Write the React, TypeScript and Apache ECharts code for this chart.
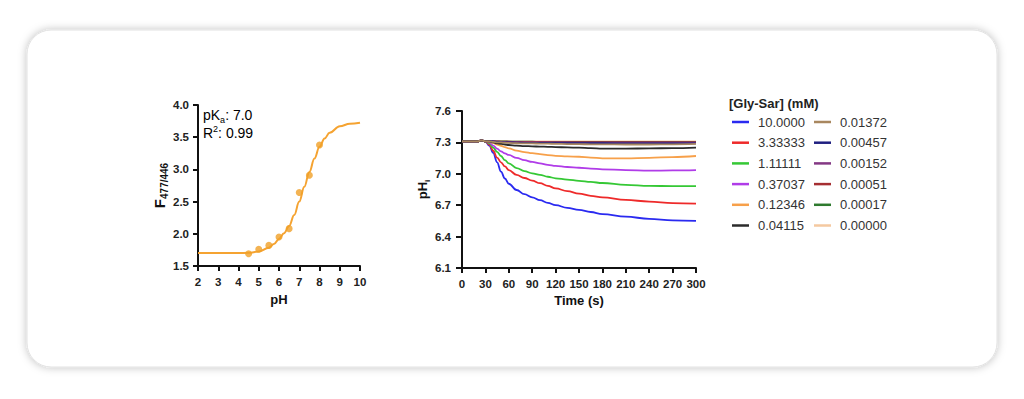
import React, { useEffect, useRef } from "react";
import * as echarts from "echarts";

// ---------- Left panel: pH calibration ----------
const phPoints: number[] = [4.5, 5, 5.5, 6, 6.5, 7, 7.5, 8];
const ratioPoints: number[] = [1.69, 1.76, 1.82, 1.95, 2.08, 2.64, 2.91, 3.38];

const fitPh: number[] = [2, 3, 4, 4.5, 5, 5.5, 5.75, 6, 6.25, 6.5, 6.75, 7, 7.25, 7.5, 7.75, 8, 8.25, 8.5, 9, 9.5, 10];
const fitRatio: number[] = [1.7, 1.7, 1.7, 1.705, 1.725, 1.785, 1.84, 1.92, 2.01, 2.12, 2.29, 2.5, 2.73, 2.96, 3.17, 3.35, 3.48, 3.57, 3.67, 3.71, 3.725];

const leftXTicks = { min: 2, max: 10, interval: 1 };
const leftYTicks = { min: 1.5, max: 4, interval: 0.5 };

// ---------- Right panel: pHi over time ----------
const times: number[] = [0, 10, 20, 25, 30, 35, 40, 45, 50, 55, 60, 70, 80, 90, 100, 110, 120, 135, 150, 165, 180, 210, 240, 270, 300];

const concNames: string[] = [
  "10.0000", "3.33333", "1.11111", "0.37037", "0.12346", "0.04115",
  "0.01372", "0.00457", "0.00152", "0.00051", "0.00017", "0.00000",
];

const s10: number[] = [7.31, 7.31, 7.31, 7.32, 7.31, 7.27, 7.2, 7.11, 7.02, 6.955, 6.905, 6.845, 6.805, 6.775, 6.748, 6.722, 6.7, 6.675, 6.655, 6.635, 6.615, 6.59, 6.57, 6.555, 6.55];
const s333: number[] = [7.31, 7.31, 7.31, 7.32, 7.31, 7.28, 7.22, 7.155, 7.11, 7.07, 7.035, 6.99, 6.96, 6.935, 6.91, 6.885, 6.86, 6.835, 6.81, 6.79, 6.775, 6.75, 6.735, 6.72, 6.715];
const s111: number[] = [7.31, 7.31, 7.31, 7.32, 7.31, 7.29, 7.25, 7.21, 7.17, 7.13, 7.1, 7.055, 7.025, 7.005, 6.99, 6.972, 6.957, 6.945, 6.933, 6.922, 6.912, 6.895, 6.885, 6.882, 6.882];
const s037: number[] = [7.31, 7.31, 7.31, 7.32, 7.31, 7.3, 7.27, 7.24, 7.215, 7.195, 7.18, 7.152, 7.13, 7.113, 7.1, 7.085, 7.075, 7.065, 7.058, 7.05, 7.043, 7.035, 7.03, 7.032, 7.035];
const s012: number[] = [7.31, 7.31, 7.31, 7.32, 7.31, 7.305, 7.295, 7.28, 7.268, 7.255, 7.243, 7.222, 7.208, 7.197, 7.188, 7.179, 7.172, 7.166, 7.163, 7.155, 7.148, 7.147, 7.152, 7.16, 7.17];
const s004: number[] = [7.31, 7.31, 7.31, 7.32, 7.31, 7.31, 7.3, 7.29, 7.285, 7.28, 7.275, 7.27, 7.265, 7.262, 7.26, 7.258, 7.255, 7.252, 7.25, 7.245, 7.24, 7.24, 7.243, 7.245, 7.25];
const s0137: number[] = [7.31, 7.31, 7.31, 7.32, 7.31, 7.31, 7.305, 7.3, 7.3, 7.297, 7.295, 7.292, 7.29, 7.29, 7.289, 7.288, 7.286, 7.284, 7.283, 7.282, 7.281, 7.28, 7.28, 7.282, 7.285];
const s0046: number[] = [7.31, 7.31, 7.31, 7.32, 7.31, 7.31, 7.31, 7.305, 7.3, 7.3, 7.3, 7.298, 7.296, 7.295, 7.295, 7.295, 7.294, 7.293, 7.293, 7.292, 7.292, 7.291, 7.29, 7.29, 7.29];
const s0015: number[] = [7.31, 7.31, 7.31, 7.32, 7.31, 7.31, 7.31, 7.308, 7.305, 7.304, 7.303, 7.302, 7.3, 7.3, 7.3, 7.3, 7.299, 7.299, 7.298, 7.298, 7.298, 7.298, 7.297, 7.297, 7.297];
const s0005: number[] = [7.31, 7.31, 7.31, 7.32, 7.31, 7.31, 7.31, 7.31, 7.308, 7.307, 7.306, 7.305, 7.305, 7.304, 7.304, 7.304, 7.303, 7.303, 7.303, 7.303, 7.302, 7.302, 7.302, 7.302, 7.302];
const s0002: number[] = [7.31, 7.31, 7.31, 7.32, 7.31, 7.31, 7.31, 7.31, 7.309, 7.309, 7.308, 7.307, 7.306, 7.306, 7.305, 7.305, 7.305, 7.305, 7.304, 7.304, 7.304, 7.304, 7.304, 7.304, 7.304];
const s0000: number[] = [7.31, 7.31, 7.31, 7.32, 7.31, 7.31, 7.31, 7.31, 7.31, 7.31, 7.31, 7.31, 7.31, 7.31, 7.31, 7.31, 7.31, 7.31, 7.31, 7.31, 7.31, 7.31, 7.31, 7.31, 7.31];

const seriesValues: number[][] = [s10, s333, s111, s037, s012, s004, s0137, s0046, s0015, s0005, s0002, s0000];
const seriesColors: string[] = [
  "#2a2af0", "#ee2a2a", "#35c835", "#b03ce8", "#f7a04a", "#2b2b2b",
  "#a8875f", "#1f1f80", "#843884", "#a52e32", "#2e7a2e", "#f4c9a0",
];

const rightXTicks = { min: 0, max: 300, interval: 30 };
const rightYRange = { min: 6.1, max: 7.6 };
const rightYTickValues: number[] = [6.1, 6.4, 6.7, 7.0, 7.3, 7.6];

const FONT = "'Liberation Sans', Arial, sans-serif";

export default function App() {
  const ref = useRef<HTMLDivElement>(null);

  useEffect(() => {
    if (!ref.current) return;
    const chart = echarts.init(ref.current, undefined, { renderer: "svg" });

    const axisLine = { show: true, lineStyle: { color: "#111", width: 2 } };
    const axisTick = { show: true, length: 5, lineStyle: { color: "#111", width: 2 } };
    const axisLabel = { color: "#222", fontWeight: "bold" as const, fontSize: 11.5, fontFamily: FONT };
    const nameStyle = { color: "#111", fontWeight: "bold" as const, fontSize: 13, fontFamily: FONT };

    const rightSeries = concNames.map((name, i) => ({
      name,
      type: "line" as const,
      xAxisIndex: 1,
      yAxisIndex: 1,
      data: times.map((t, j) => [t, seriesValues[i][j]]),
      symbol: "none",
      smooth: 0.4,
      smoothMonotone: "x" as const,
      lineStyle: { color: seriesColors[i], width: 1.8 },
      itemStyle: { color: seriesColors[i] },
      z: 3 + (i < 6 ? i : 11 - i),
    }));

    const legendCommon = {
      orient: "vertical" as const,
      icon: "rect",
      padding: 0,
      itemWidth: 17,
      itemHeight: 2.5,
      itemGap: 6.7,
      selectedMode: false,
      textStyle: { fontSize: 13, color: "#333", fontFamily: FONT, lineHeight: 14, padding: [0, 0, 0, 4] },
    };

    chart.setOption({
      animation: false,
      backgroundColor: "#ffffff",
      graphic: [
        {
          type: "rect",
          z: -10,
          silent: true,
          shape: { x: 27, y: 30, width: 970, height: 337, r: 24 },
          style: { fill: "#ffffff", stroke: "#e2e2e2", lineWidth: 1, shadowBlur: 9, shadowColor: "rgba(0,0,0,0.25)" },
        },
        {
          type: "text",
          x: 203,
          y: 115,
          style: {
            text: "{n|pK}{s|a}{n|: 7.0}",
            verticalAlign: "middle",
            rich: {
              n: { fontSize: 14, color: "#4a4a4a", fontFamily: FONT, lineHeight: 18 },
              s: { fontSize: 9, color: "#4a4a4a", fontFamily: FONT, verticalAlign: "bottom" },
            },
          },
        },
        {
          type: "text",
          x: 203,
          y: 133,
          style: {
            text: "{n|R}{s|2}{n|: 0.99}",
            verticalAlign: "middle",
            rich: {
              n: { fontSize: 14, color: "#4a4a4a", fontFamily: FONT, lineHeight: 18 },
              s: { fontSize: 9, color: "#4a4a4a", fontFamily: FONT, verticalAlign: "top" },
            },
          },
        },
        {
          type: "text",
          x: 729,
          y: 103,
          style: {
            text: "[Gly-Sar] (mM)",
            fontSize: 13,
            fontWeight: "bold",
            fill: "#222",
            fontFamily: FONT,
            verticalAlign: "middle",
          },
        },
      ],
      legend: [
        { ...legendCommon, left: 732, top: 115, data: concNames.slice(0, 6) },
        { ...legendCommon, left: 814, top: 115, data: concNames.slice(6) },
      ],
      grid: [
        { left: 198, top: 105, width: 162, height: 161 },
        { left: 462, top: 111, width: 234, height: 157 },
      ],
      xAxis: [
        {
          type: "value",
          gridIndex: 0,
          min: leftXTicks.min,
          max: leftXTicks.max,
          interval: leftXTicks.interval,
          axisLine,
          axisTick,
          splitLine: { show: false },
          axisLabel: { ...axisLabel, margin: 10 },
          name: "pH",
          nameLocation: "middle",
          nameGap: 27,
          nameTextStyle: nameStyle,
        },
        {
          type: "value",
          gridIndex: 1,
          min: rightXTicks.min,
          max: rightXTicks.max,
          interval: rightXTicks.interval,
          axisLine,
          axisTick,
          splitLine: { show: false },
          axisLabel: { ...axisLabel, margin: 10 },
          name: "Time (s)",
          nameLocation: "middle",
          nameGap: 26,
          nameTextStyle: nameStyle,
        },
      ],
      yAxis: [
        {
          type: "value",
          gridIndex: 0,
          min: leftYTicks.min,
          max: leftYTicks.max,
          interval: leftYTicks.interval,
          axisLine,
          axisTick,
          splitLine: { show: false },
          axisLabel: { ...axisLabel, margin: 9, formatter: (v: number) => v.toFixed(1) },
          name: "{f|F}{s|477/446}",
          nameLocation: "middle",
          nameGap: 28,
          nameRotate: 90,
          nameTextStyle: {
            rich: {
              f: { fontSize: 15, fontWeight: "bold", color: "#111", fontFamily: FONT, lineHeight: 20 },
              s: { fontSize: 10, fontWeight: "bold", color: "#111", fontFamily: FONT, verticalAlign: "bottom" },
            },
          },
        },
        {
          type: "value",
          gridIndex: 1,
          min: rightYRange.min,
          max: rightYRange.max,
          axisLine,
          axisTick: { ...axisTick, length: 6, customValues: rightYTickValues },
          splitLine: { show: false },
          axisLabel: { ...axisLabel, margin: 11, customValues: rightYTickValues, formatter: (v: number) => v.toFixed(1) },
          name: "{f|pH}{s|i}",
          nameLocation: "middle",
          nameGap: 30,
          nameRotate: 90,
          nameTextStyle: {
            rich: {
              f: { fontSize: 13, fontWeight: "bold", color: "#111", fontFamily: FONT, lineHeight: 18 },
              s: { fontSize: 8, fontWeight: "bold", color: "#111", fontFamily: FONT, verticalAlign: "bottom" },
            },
          },
        },
      ],
      series: [
        {
          type: "line",
          xAxisIndex: 0,
          yAxisIndex: 0,
          data: fitPh.map((x, i) => [x, fitRatio[i]]),
          symbol: "none",
          smooth: 0.4,
          smoothMonotone: "x",
          lineStyle: { color: "#f5a331", width: 2 },
          z: 2,
        },
        {
          type: "scatter",
          xAxisIndex: 0,
          yAxisIndex: 0,
          data: phPoints.map((x, i) => [x, ratioPoints[i]]),
          symbolSize: 7,
          itemStyle: { color: "#f0a028" },
          z: 3,
        },
        ...rightSeries,
      ],
    });

    return () => chart.dispose();
  }, []);

  return (
    <div
      ref={ref}
      style={{ position: "absolute", left: 0, top: 0, width: 1024, height: 399 }}
    />
  );
}
